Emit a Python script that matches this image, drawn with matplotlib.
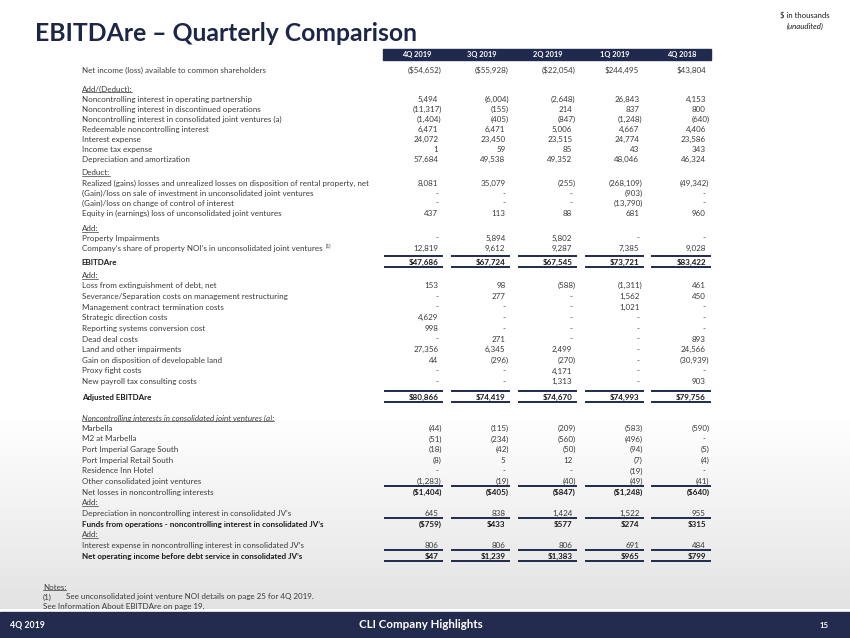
import numpy as np
import matplotlib
matplotlib.use("Agg")
from matplotlib import pyplot as plt
from matplotlib.colors import LinearSegmentedColormap

# ---- data ($ in thousands) ----
quarters = ["4Q 2019", "3Q 2019", "2Q 2019", "1Q 2019", "4Q 2018"]

line_items = [
    "Net income (loss) available to common shareholders",
    "Noncontrolling interest in operating partnership",
    "Noncontrolling interest in discontinued operations",
    "Noncontrolling interest in consolidated joint ventures (a)",
    "Redeemable noncontrolling interest",
    "Interest expense",
    "Income tax expense",
    "Depreciation and amortization",
    "Realized (gains) losses and unrealized losses on disposition of rental property, net",
    "(Gain)/loss on sale of investment in unconsolidated joint ventures",
    "(Gain)/loss on change of control of interest",
    "Equity in (earnings) loss of unconsolidated joint ventures",
    "Property Impairments",
    "Company\u2019s share of property NOI\u2019s in unconsolidated joint ventures",
    "EBITDAre",
    "Loss from extinguishment of debt, net",
    "Severance/Separation costs on management restructuring",
    "Management contract termination costs",
    "Strategic direction costs",
    "Reporting systems conversion cost",
    "Dead deal costs",
    "Land and other impairments",
    "Gain on disposition of developable land",
    "Proxy fight costs",
    "New payroll tax consulting costs",
    "Adjusted EBITDAre",
    "Marbella",
    "M2 at Marbella",
    "Port Imperial Garage South",
    "Port Imperial Retail South",
    "Residence Inn Hotel",
    "Other consolidated joint ventures",
    "Net losses in noncontrolling interests",
    "Depreciation in noncontrolling interest in consolidated JV\u2019s",
    "Funds from operations - noncontrolling interest in consolidated JV\u2019s",
    "Interest expense in noncontrolling interest in consolidated JV\u2019s",
    "Net operating income before debt service in consolidated JV\u2019s",
]

q4_2019 = [-54652, 5494, -11317, -1404, 6471, 24072, 1, 57684,
           8081, None, None, 437, None, 12819, 47686,
           153, None, None, 4629, 998, None, 27356, 44, None, None, 80866,
           -44, -51, -18, -8, None, -1283, -1404, 645, -759, 806, 47]
q3_2019 = [-55928, -6004, -155, -405, 6471, 23450, 59, 49538,
           35079, None, None, 113, 5894, 9612, 67724,
           98, 277, None, None, None, 271, 6345, -296, None, None, 74419,
           -115, -234, -42, 5, None, -19, -405, 838, 433, 806, 1239]
q2_2019 = [-22054, -2648, 214, -847, 5006, 23515, 85, 49352,
           -255, None, None, 88, 5802, 9287, 67545,
           -588, None, None, None, None, None, 2499, -270, 4171, 1313, 74670,
           -209, -560, -50, 12, None, -40, -847, 1424, 577, 806, 1383]
q1_2019 = [244495, 26843, 837, -1248, 4667, 24774, 43, 48046,
           -268109, -903, -13790, 681, None, 7385, 73721,
           -1311, 1562, 1021, None, None, None, None, None, None, None, 74993,
           -583, -496, -94, -7, -19, -49, -1248, 1522, 274, 691, 965]
q4_2018 = [43804, 4153, 800, -640, 4406, 23586, 343, 46324,
           -49342, None, None, 960, None, 9028, 83422,
           461, 450, None, None, None, 893, 24566, -30939, None, 903, 79756,
           -590, None, -5, -4, None, -41, -640, 955, 315, 484, 799]

columns = [q4_2019, q3_2019, q2_2019, q1_2019, q4_2018]

notes = [
    ("(1)", "See unconsolidated joint venture NOI details on page 25 for 4Q 2019."),
]
info_note = "See Information About EBITDAre on page 19."

# ---- styling ----
NAVY = "#1f2a4e"
TEXT = "#3a3a3a"
DARK = "#1a1a1a"
FONT = ["Lato", "DejaVu Sans"]
FS = 5.8

dollar_rows = {0, 14, 25, 32, 34, 36}
bold_rows = {14, 25, 34, 36}
bold_value_rows = bold_rows | {32}
lines_above = {14, 25}
lines_below = {14, 25, 31, 33, 35, 36}

# vertical layout: (line item index or header text, gap above in px)
layout = [
    (0, 70),
    ("Add/(Deduct):", 19.3),
    (1, 10), (2, 10), (3, 10), (4, 10), (5, 10), (6, 10), (7, 9.8),
    ("Deduct:", 13.7),
    (8, 10.6), (9, 10), (10, 9.6), (11, 10.4),
    ("Add:", 15.2),
    (12, 9.6), (13, 10.6),
    (14, 13.3),
    ("Add:", 13.7),
    (15, 10), (16, 10.65), (17, 10.65), (18, 10.65), (19, 10.65), (20, 10.65),
    (21, 10.65), (22, 10.65), (23, 10.65), (24, 10.65),
    (25, 15.6),
    ("Noncontrolling interests in consolidated joint ventures (a):", 21),
    (26, 10), (27, 10.67), (28, 10.67), (29, 10.67), (30, 10.67), (31, 10.67), (32, 10.67),
    ("Add:", 10.67), (33, 10.67), (34, 10.67),
    ("Add:", 10.67), (35, 10.67), (36, 10.67),
]

label_x = 81.7
col_right = [438.3, 505.5, 572.3, 639.3, 706.0]
col_center = [416.5, 481.7, 548.0, 615.0, 681.7]


def fmt(v, dollar):
    if v is None:
        return "-"
    s = f"{abs(v):,}"
    if dollar:
        s = "$" + s
    return f"({s})" if v < 0 else s


fig = plt.figure(figsize=(8.5, 6.38), dpi=100)
ax = fig.add_axes([0, 0, 1, 1])
ax.set_xlim(0, 850)
ax.set_ylim(638, 0)
ax.axis("off")

# soft grey gradient towards the footer
grad = np.linspace(0, 1, 200).reshape(-1, 1)
cmap = LinearSegmentedColormap.from_list("bg", ["#ffffff", "#e3e3e3"])
ax.imshow(grad, extent=(0, 850, 609, 420), cmap=cmap, aspect="auto", zorder=0)
ax.add_patch(plt.Rectangle((0, 611.5), 850, 27, color="#232c4e", zorder=1))

# title block
ax.text(35, 41, "EBITDAre \u2013 Quarterly Comparison", fontsize=17.8, fontweight="bold",
        color="#1d2646", family=FONT, va="baseline")
ax.text(805, 15, "$ in thousands", fontsize=5.6, color=DARK, family=FONT, ha="center", va="center")
ax.text(805, 26, "(unaudited)", fontsize=5.6, color=DARK, family=FONT, ha="center", va="center",
        style="italic")

# column header bar
ax.add_patch(plt.Rectangle((383.3, 49.3), 711 - 383.3, 10.7, color=NAVY, zorder=1))
for q, cx in zip(quarters, col_center):
    ax.text(cx, 54.8, q, fontsize=5.4, fontweight="bold", color="white", family=FONT,
            ha="center", va="center", zorder=2)

underline_texts = []
company_label = None
y = 0
for entry, gap in layout:
    y += gap
    if isinstance(entry, str):
        t = ax.text(label_x, y, entry, fontsize=FS, color=TEXT, family=FONT, va="center",
                    style="italic" if entry.startswith("Noncontrolling") else "normal")
        underline_texts.append(t)
        continue
    i = entry
    weight = "bold" if i in bold_rows else "normal"
    t = ax.text(label_x, y, line_items[i], fontsize=FS, color=DARK if i in bold_rows else TEXT,
                family=FONT, va="center", fontweight=weight)
    if i == 13:
        company_label = (t, y)
    vweight = "bold" if i in bold_value_rows else "normal"
    for col, xr in zip(columns, col_right):
        v = col[i]
        x = xr + 3.4 if (v is not None and v < 0) else xr
        ax.text(x, y, fmt(v, i in dollar_rows), fontsize=FS, color=DARK if vweight == "bold" else TEXT,
                family=FONT, ha="right", va="center", fontweight=vweight)
    for xr in col_right:
        if i in lines_above:
            ax.plot([xr - 54.5, xr + 5], [y - 6, y - 6], color=NAVY, lw=1.4, solid_capstyle="butt")
        if i in lines_below:
            ax.plot([xr - 54.5, xr + 5], [y + 4.6, y + 4.6], color=NAVY, lw=1.4, solid_capstyle="butt")

# notes
t = ax.text(43, 587, "Notes:", fontsize=FS, color=TEXT, family=FONT, va="center")
underline_texts.append(t)
for mark, note in notes:
    ax.text(43, 597, mark, fontsize=FS, color=TEXT, family=FONT, va="center")
    ax.text(65.7, 597, note, fontsize=FS, color=TEXT, family=FONT, va="center")
ax.text(43, 606.5, info_note, fontsize=FS, color=TEXT, family=FONT, va="center")

# footer
ax.text(10, 625, "4Q 2019", fontsize=6.3, fontweight="bold", color="white", family=FONT, va="center")
ax.text(421, 625, "CLI Company Highlights", fontsize=8.3, fontweight="bold", color="white",
        family=FONT, ha="center", va="center")
ax.text(824, 625.5, "15", fontsize=5.6, fontweight="bold", color="white", family=FONT,
        ha="center", va="center")

# underlines and the footnote marker need the rendered text extents
fig.canvas.draw()
renderer = fig.canvas.get_renderer()
inv = ax.transData.inverted()
for t in underline_texts:
    bb = t.get_window_extent(renderer)
    (x0, y0), (x1, _) = inv.transform([(bb.x0, bb.y0), (bb.x1, bb.y1)])
    ax.plot([x0, x1], [y0 - 0.6, y0 - 0.6], color=TEXT, lw=0.5)
if company_label is not None:
    t, yy = company_label
    bb = t.get_window_extent(renderer)
    xe = inv.transform((bb.x1, bb.y0))[0]
    ax.text(xe + 3, yy - 2.5, "(1)", fontsize=3.4, color=TEXT, family=FONT, va="center")

fig.savefig("out.png", dpi=100)
